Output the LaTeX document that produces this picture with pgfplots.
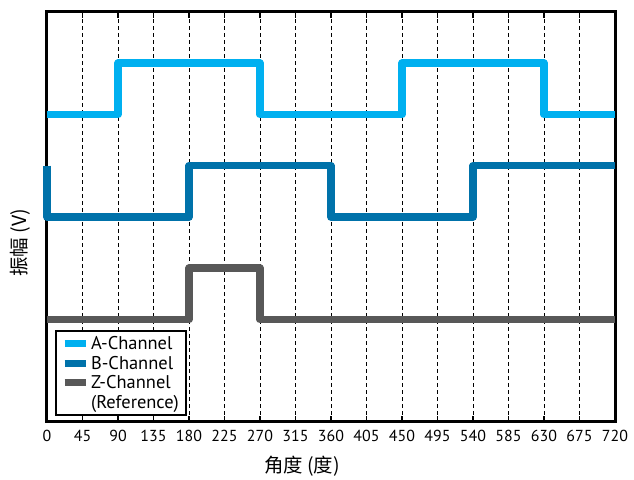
\documentclass[border=0pt]{standalone}
\usepackage{pgfplots}
\pgfplotsset{compat=1.18}
\usepackage{fontspec}
\setmainfont{PT Sans}
\newfontfamily\cjk{Noto Sans CJK SC}
\definecolor{chA}{RGB}{0,176,240}
\definecolor{chB}{RGB}{0,114,170}
\definecolor{chZ}{RGB}{88,88,88}
\begin{document}
\begin{tikzpicture}[x=1bp,y=1bp]
\path[use as bounding box] (-47,-58) rectangle (587,422);
\begin{axis}[
  at={(0,0)}, anchor=south west,
  scale only axis,
  width=568bp, height=410bp,
  xmin=0, xmax=720, ymin=0, ymax=8,
  xtick={0,45,...,720},
  ytick=\empty,
  xmajorgrids,
  grid style={black, dashed, line width=0.8bp, dash pattern=on 4bp off 3bp},
  axis line style={line width=3bp},
  tick style={black, line width=1.6bp},
  major tick length=6bp,
  tick align=inside,
  xtick pos=both,
  clip=false,
  ticklabel style={font=\fontsize{16}{16}\selectfont},
  /pgf/number format/assume math mode=true,
  xticklabel style={yshift=-5bp},
  xlabel={\cjk\fontsize{19.5}{20}\selectfont 角度 (度)},
  ylabel={\cjk\fontsize{19.5}{20}\selectfont 振幅 (V)},
  xlabel style={at={(axis description cs:0.449,-0.107)}, anchor=center},
  ylabel style={at={(axis description cs:-0.0475,0.437)}, anchor=center},
  legend cell align=left,
  legend style={at={(8bp,6bp)}, anchor=south west, draw=black, line width=2.2bp,
    font=\fontsize{18.5}{20}\selectfont, row sep=0bp, inner xsep=5bp, inner ysep=3bp,
    nodes={inner ysep=2.4bp},
    /tikz/every even column/.append style={column sep=3bp}},
  legend image code/.code={\draw[#1, line width=7bp, line cap=butt] (0bp,0bp) -- (21bp,0bp);},
]
\addplot[chA, line width=7.5bp, line join=round] coordinates {(0,6)(90,6)(90,7)(270,7)(270,6)(450,6)(450,7)(630,7)(630,6)(720,6)};
\addlegendentry{A-Channel}
\addplot[chB, line width=7.5bp, line join=round] coordinates {(0,5)(0,4)(180,4)(180,5)(360,5)(360,4)(540,4)(540,5)(720,5)};
\addlegendentry{B-Channel}
\addplot[chZ, line width=7.5bp, line join=round] coordinates {(0,2)(180,2)(180,3)(270,3)(270,2)(720,2)};
\addlegendentry{Z-Channel}
\addlegendimage{empty legend}
\addlegendentry{(Reference)}
\end{axis}
\end{tikzpicture}
\end{document}
